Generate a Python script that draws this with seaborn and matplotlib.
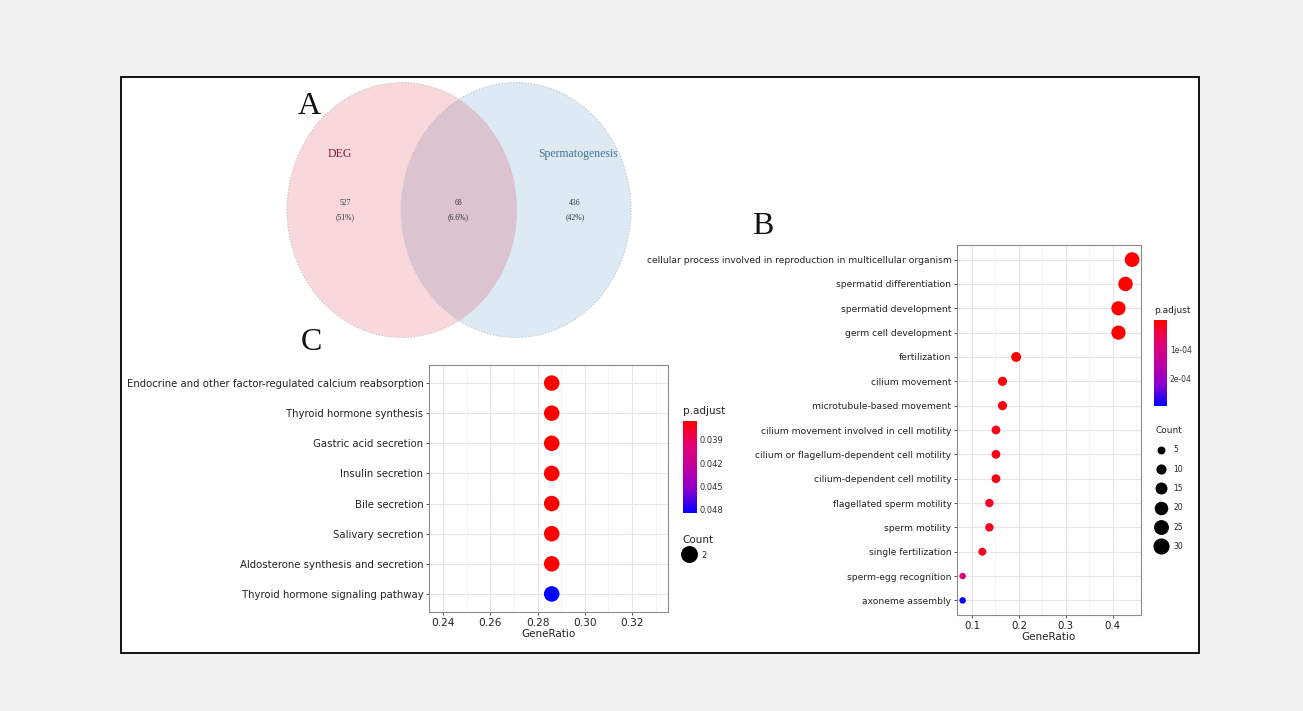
import numpy as np
import pandas as pd
import seaborn as sns
import matplotlib.pyplot as plt
from matplotlib.patches import Ellipse, Rectangle
from matplotlib.colors import LinearSegmentedColormap, Normalize
from matplotlib.cm import ScalarMappable
from matplotlib.lines import Line2D
from matplotlib.ticker import MultipleLocator

# --- panel A: venn
venn_sets = ['DEG', 'Spermatogenesis']
venn_counts = [527, 68, 436]
venn_pcts = ['(51%)', '(6.6%)', '(42%)']

# --- panel C: KEGG enrichment
kegg_terms = ['Endocrine and other factor-regulated calcium reabsorption',
              'Thyroid hormone synthesis', 'Gastric acid secretion',
              'Insulin secretion', 'Bile secretion', 'Salivary secretion',
              'Aldosterone synthesis and secretion',
              'Thyroid hormone signaling pathway']
kegg_ratio = [0.286, 0.286, 0.286, 0.286, 0.286, 0.286, 0.286, 0.286]
kegg_count = [2, 2, 2, 2, 2, 2, 2, 2]
kegg_padj = [0.0366, 0.0366, 0.0366, 0.0366, 0.0366, 0.0366, 0.0366, 0.0484]
kegg_ticks = [0.039, 0.042, 0.045, 0.048]

# --- panel B: GO enrichment
go_terms = ['cellular process involved in reproduction in multicellular organism',
            'spermatid differentiation', 'spermatid development',
            'germ cell development', 'fertilization', 'cilium movement',
            'microtubule-based movement',
            'cilium movement involved in cell motility',
            'cilium or flagellum-dependent cell motility',
            'cilium-dependent cell motility', 'flagellated sperm motility',
            'sperm motility', 'single fertilization', 'sperm-egg recognition',
            'axoneme assembly']
go_ratio = [0.441, 0.427, 0.412, 0.412, 0.194, 0.165, 0.165, 0.151, 0.151,
            0.151, 0.137, 0.137, 0.122, 0.080, 0.080]
go_count = [30, 29, 28, 28, 13, 11, 11, 10, 10, 10, 9, 9, 8, 5, 5]
go_padj = [1.2e-9, 3.0e-9, 5.5e-9, 5.5e-9, 2.1e-6, 8.0e-6, 9.5e-6, 1.6e-5,
           1.6e-5, 1.6e-5, 2.2e-5, 2.2e-5, 2.6e-5, 0.9e-4, 2.95e-4]
go_ticks = [1e-4, 2e-4]
go_tick_labels = ['1e-04', '2e-04']
count_breaks = [5, 10, 15, 20, 25, 30]

W, H = 1303, 711


def px(l, t, r, b):
    return [l / W, 1 - b / H, (r - l) / W, (b - t) / H]


sns.set_theme(style='white')
plt.rcParams['font.family'] = ['DejaVu Sans']

cmap = LinearSegmentedColormap.from_list(
    'padj', ['#ff0000', '#e6006e', '#c000a0', '#8a00d0', '#0000ff'])

fig = plt.figure(figsize=(W / 100, H / 100), dpi=100, facecolor='#f1f1f1')

# background canvas in pixel coordinates
bg = fig.add_axes([0, 0, 1, 1])
bg.set_xlim(0, W)
bg.set_ylim(H, 0)
bg.axis('off')
bg.add_patch(Rectangle((121, 77), 1078, 576, facecolor='white',
                       edgecolor='black', lw=1.3))

# venn circles
left = Ellipse((402, 210), 230, 255, facecolor='#f9d8db', edgecolor='#c4c4c4',
               lw=0.8, ls=':')
right = Ellipse((516, 210), 230, 255, facecolor='#dde9f3', edgecolor='#c4c4c4',
                lw=0.8, ls=':')
bg.add_patch(left)
bg.add_patch(right)
mid = Ellipse((516, 210), 230, 255, facecolor='#dbc3cf', edgecolor='none')
bg.add_patch(mid)
mid.set_clip_path(left)

serif = 'Liberation Serif'
bg.text(340, 154, venn_sets[0], color='#8b1c30', fontsize=8.5, family=serif,
        ha='center', va='center')
bg.text(578, 154, venn_sets[1], color='#46708f', fontsize=8.5, family=serif,
        ha='center', va='center')
for xc, n, p in zip([345, 458, 575], venn_counts, venn_pcts):
    bg.text(xc, 203, str(n), fontsize=5.5, family=serif, ha='center',
            va='center', color='#333333')
    bg.text(xc, 217, p, fontsize=5.5, family=serif, ha='center', va='center',
            color='#333333')

for lab, xy in zip(['A', 'B', 'C'], [(309, 106), (763, 226), (311, 342)]):
    bg.text(xy[0], xy[1], lab, fontsize=23, family=serif, ha='center',
            va='center', color='#111111')


def style_axes(ax, fs, minor):
    ax.set_axisbelow(True)
    ax.xaxis.set_minor_locator(MultipleLocator(minor))
    ax.grid(True, which='major', color='#e6e6e6', lw=0.8)
    ax.grid(True, which='minor', axis='x', color='#f2f2f2', lw=0.6)
    for sp in ax.spines.values():
        sp.set_color('#8c8c8c')
        sp.set_linewidth(0.8)
    ax.tick_params(which='major', length=2.5, width=0.6, color='#333333',
                   labelsize=fs, labelcolor='#222222', pad=1.5,
                   left=True, bottom=True)
    ax.tick_params(which='minor', length=0)
    ax.set_ylabel('')
    ax.set_xlabel('GeneRatio', fontsize=7.5, labelpad=1, color='#222222')


# --- panel C
df_c = pd.DataFrame({'term': kegg_terms, 'GeneRatio': kegg_ratio,
                     'Count': kegg_count, 'p.adjust': kegg_padj})
norm_c = Normalize(min(kegg_padj), max(kegg_padj))
dot_c = 125
ax_c = fig.add_axes(px(429, 365, 668, 612))
sns.scatterplot(data=df_c, x='GeneRatio', y='term', hue='p.adjust',
                palette=cmap, hue_norm=norm_c, s=dot_c, linewidth=0,
                legend=False, ax=ax_c, zorder=3)
ax_c.set_xlim(0.2341, 0.3352)
ax_c.set_ylim(len(kegg_terms) - 0.4, -0.6)
ax_c.set_xticks([0.24, 0.26, 0.28, 0.30, 0.32])
ax_c.set_xticklabels(['0.24', '0.26', '0.28', '0.30', '0.32'])
style_axes(ax_c, 7.3, 0.01)
ax_c.tick_params(axis='x', labelsize=7.6)

cax_c = fig.add_axes(px(683, 421, 697, 513))
cb = fig.colorbar(ScalarMappable(norm_c, cmap), cax=cax_c)
cax_c.set_ylim(norm_c.vmax, norm_c.vmin)
cb.set_ticks(kegg_ticks)
cb.set_ticklabels(['%.3f' % t for t in kegg_ticks])
cb.outline.set_visible(False)
cax_c.tick_params(length=2.5, width=0.8, direction='in', color='white',
                  labelsize=6, labelcolor='#333333', pad=2)
cax_c.set_title('p.adjust', loc='left', fontsize=7.5, pad=5, color='#222222')

leg_c = fig.legend(handles=[Line2D([], [], marker='o', ls='', color='black',
                                   markersize=np.sqrt(dot_c), label='2')],
                   title='Count', loc='upper left',
                   bbox_to_anchor=(682 / W, 1 - 535 / H), frameon=False,
                   fontsize=6, title_fontsize=7.5, handletextpad=0.7,
                   borderaxespad=0, borderpad=0, handlelength=1.6,
                   handleheight=2.0)
leg_c._legend_box.align = 'left'

# --- panel B
df_b = pd.DataFrame({'term': go_terms, 'GeneRatio': go_ratio,
                     'Count': go_count, 'p.adjust': go_padj})
norm_b = Normalize(min(go_padj), max(go_padj))
size_range = (22, 112)
size_norm = (min(go_count), max(go_count))
ax_b = fig.add_axes(px(957, 245, 1141, 615))
sns.scatterplot(data=df_b, x='GeneRatio', y='term', hue='p.adjust',
                palette=cmap, hue_norm=norm_b, size='Count', sizes=size_range,
                size_norm=size_norm, linewidth=0, legend=False, ax=ax_b,
                zorder=3)
ax_b.set_xlim(0.068, 0.460)
ax_b.set_ylim(len(go_terms) - 0.4, -0.6)
ax_b.set_xticks([0.1, 0.2, 0.3, 0.4])
ax_b.set_xticklabels(['0.1', '0.2', '0.3', '0.4'])
style_axes(ax_b, 6.6, 0.05)
ax_b.tick_params(axis='x', labelsize=7.4)

cax_b = fig.add_axes(px(1154, 320, 1167, 406))
cb_b = fig.colorbar(ScalarMappable(norm_b, cmap), cax=cax_b)
cax_b.set_ylim(norm_b.vmax, norm_b.vmin)
cb_b.set_ticks(go_ticks)
cb_b.set_ticklabels(go_tick_labels)
cb_b.outline.set_visible(False)
cax_b.tick_params(length=2.5, width=0.8, direction='in', color='white',
                  labelsize=5.5, labelcolor='#333333', pad=2)
cax_b.set_title('p.adjust', loc='left', fontsize=6.5, pad=5, color='#222222')


def size_of(c):
    lo, hi = size_norm
    return size_range[0] + (c - lo) / (hi - lo) * (size_range[1] - size_range[0])


handles_b = [Line2D([], [], marker='o', ls='', color='black',
                    markersize=np.sqrt(size_of(c)), label=str(c))
             for c in count_breaks]
leg_b = fig.legend(handles=handles_b, title='Count', loc='upper left',
                   bbox_to_anchor=(1155 / W, 1 - 426 / H), frameon=False,
                   fontsize=5.5, title_fontsize=6.5, handletextpad=0.8,
                   borderaxespad=0, borderpad=0, handlelength=1.6,
                   labelspacing=1.35)
leg_b._legend_box.align = 'left'

fig.savefig('out.png', dpi=100, facecolor=fig.get_facecolor())
